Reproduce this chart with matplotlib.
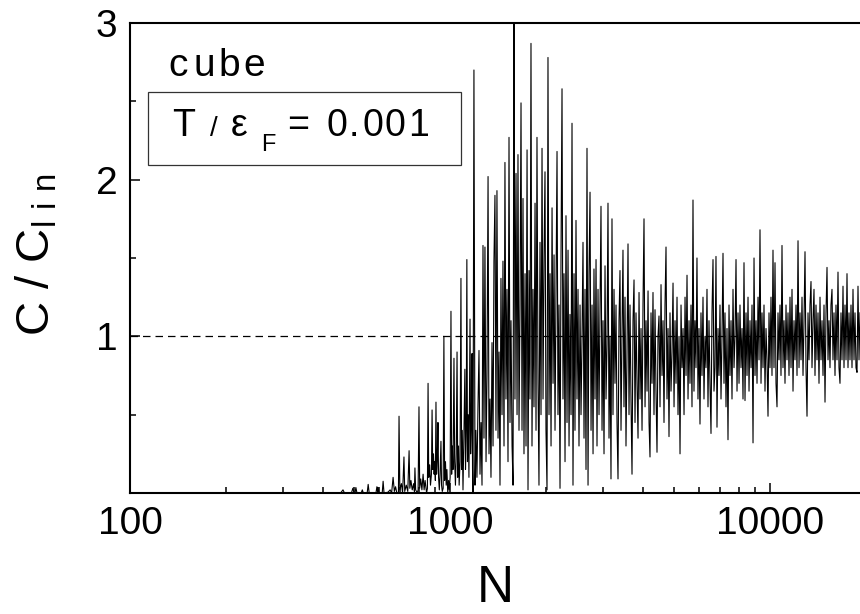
import numpy as np
import matplotlib
matplotlib.use("Agg")
import matplotlib.pyplot as plt
from matplotlib.patches import Rectangle
from matplotlib.ticker import FixedLocator, NullFormatter

plt.rcParams['font.family'] = ['Liberation Sans', 'DejaVu Sans']
plt.rcParams['mathtext.fontset'] = 'custom'
plt.rcParams['mathtext.rm'] = 'Liberation Sans'

# ---- data: onset region (sparse spikes) ----
N_onset = [100, 455, 463, 468, 492, 497, 502, 505, 508, 512,
           528, 532, 536, 551, 555, 559, 587, 591, 594, 596,
           600, 614, 618, 622, 640, 650, 657, 664, 670, 676,
           682, 690, 693, 697, 705, 711, 718, 722, 730, 738,
           745, 749, 755, 762, 770, 774, 777, 781, 790, 795,
           800, 804, 810, 817, 824, 830, 836, 845, 850, 854,
           858, 864, 869, 875, 879, 883, 888, 892, 896, 900,
           904, 908, 913, 917, 921, 926, 931, 937, 941, 946,
           952, 957, 962, 968, 973, 978, 984, 990, 995, 1001,
           1007, 1012, 1017, 1022, 1029, 1034, 1040, 1046, 1052, 1057,
           1063, 1068, 1075, 1082, 1087, 1092, 1098, 1105, 1113, 1118,
           1124, 1129, 1134, 1140, 1146, 1155, 1160, 1166, 1172, 1176,
           1180]
C_onset = [0.0, 0.0, 0.02, 0.0, 0.0, 0.03, 0.0, 0.0, 0.035, 0.0,
           0.0, 0.02, 0.0, 0.0, 0.055, 0.0, 0.0, 0.04, 0.01, 0.035,
           0.0, 0.0, 0.075, 0.0, 0.005, 0.02, 0.0, 0.10, 0.01, 0.04,
           0.0, 0.0, 0.49, 0.02, 0.06, 0.0, 0.23, 0.01, 0.05, 0.01,
           0.27, 0.03, 0.08, 0.02, 0.06, 0.01, 0.16, 0.02, 0.0, 0.02,
           0.55, 0.03, 0.09, 0.02, 0.12, 0.02, 0.08, 0.0, 0.03, 0.70,
           0.10, 0.18, 0.05, 0.12, 0.53, 0.15, 0.25, 0.12, 0.20, 0.08,
           0.58, 0.12, 0.22, 0.45, 0.10, 0.02, 0.12, 0.33, 0.05, 0.01,
           0.03, 1.0, 0.08, 0.20, 0.05, 0.15, 0.0, 0.08, 0.02, 0.10,
           1.16, 0.12, 0.30, 0.15, 0.86, 0.20, 0.05, 0.25, 0.90, 0.10,
           0.30, 0.05, 0.20, 1.37, 0.15, 0.40, 0.02, 0.35, 0.79, 0.15,
           0.40, 1.49, 0.20, 0.50, 0.10, 1.11, 0.25, 0.45, 0.89, 0.15,
           0.0]

# ---- data: strong-oscillation region ----
N_mid = [1188, 1197, 1205, 1214, 1223, 1232, 1241, 1250, 1259, 1268,
         1277, 1286, 1296, 1305, 1315, 1324, 1334, 1343, 1353, 1363,
         1372, 1382, 1392, 1402, 1413, 1423, 1433, 1443, 1454, 1464,
         1475, 1485, 1496, 1507, 1518, 1529, 1540, 1551, 1563, 1574,
         1585, 1596, 1608, 1620, 1631, 1643, 1655, 1667, 1679, 1691,
         1703, 1716, 1728, 1741, 1753, 1766, 1778, 1791, 1804, 1817,
         1830, 1844, 1857, 1870, 1884, 1897, 1911, 1925, 1939, 1953,
         1967, 1981, 1995, 2010, 2024, 2039, 2054, 2069, 2084, 2099,
         2114, 2129, 2144, 2160, 2175, 2191, 2207, 2223, 2239, 2255,
         2271, 2288, 2304, 2321, 2338, 2355, 2371, 2389, 2406, 2423,
         2441, 2458, 2476, 2494, 2512, 2530, 2549, 2567, 2586, 2604,
         2623, 2642, 2661, 2680, 2700, 2719, 2739, 2759, 2779, 2799,
         2818, 2839, 2860, 2880, 2901, 2922]
C_mid = [2.70, 0.05, 0.40, 0.10, 0.55, 0.91, 0.12, 0.45, 0.05, 1.58,
         0.35, 1.57, 0.20, 0.76, 2.02, 0.25, 0.60, 0.10, 0.96, 0.30,
         1.48, 1.90, 0.40, 1.93, 0.35, 0.90, 0.05, 1.37, 0.50, 1.48,
         0.30, 2.11, 0.60, 1.30, 0.20, 2.27, 0.45, 1.10, 0.30, 0.05,
         3.30, 0.60, 2.04, 0.50, 2.16, 0.40, 1.20, 2.49, 0.40, 1.88,
         0.25, 1.40, 0.30, 2.19, 0.02, 1.42, 0.60, 2.87, 0.30, 1.30,
         0.55, 1.85, 0.40, 2.27, 0.70, 0.05, 1.60, 0.50, 2.20, 0.60,
         1.50, 2.05, 0.40, 0.02, 2.78, 0.50, 1.40, 0.30, 1.82, 0.70,
         1.52, 0.40, 1.30, 2.18, 0.50, 1.20, 0.03, 1.52, 2.58, 0.60,
         1.40, 0.20, 1.77, 0.45, 1.55, 0.30, 1.14, 0.50, 2.36, 0.05,
         1.40, 0.40, 1.74, 0.60, 1.30, 0.30, 1.20, 0.50, 1.00, 1.60,
         0.35, 1.30, 0.15, 2.20, 0.05, 1.40, 1.92, 0.40, 1.20, 0.25,
         1.43, 0.60, 1.49, 0.30, 1.30, 0.50]

# ---- data: fluctuations around the bulk value ----
N_tail = [2943, 2964, 2986, 3007, 3029, 3051, 3073, 3095, 3117, 3140,
          3162, 3185, 3208, 3231, 3255, 3278, 3302, 3326, 3350, 3374,
          3398, 3423, 3447, 3472, 3497, 3523, 3548, 3574, 3600, 3626,
          3652, 3678, 3705, 3732, 3759, 3786, 3813, 3841, 3869, 3897,
          3925, 3953, 3982, 4010, 4039, 4069, 4098, 4128, 4158, 4188,
          4217, 4248, 4278, 4309, 4340, 4372, 4403, 4435, 4467, 4499,
          4532, 4565, 4598, 4631, 4664, 4698, 4732, 4766, 4801, 4835,
          4870, 4905, 4941, 4977, 5013, 5049, 5085, 5122, 5159, 5196,
          5234, 5272, 5310, 5348, 5387, 5426, 5465, 5504, 5544, 5584,
          5623, 5664, 5705, 5746, 5787, 5829, 5871, 5913, 5956, 5999,
          6043, 6086, 6130, 6175, 6219, 6264, 6309, 6355, 6401, 6447,
          6494, 6541, 6588, 6636, 6683, 6732, 6780, 6829, 6879, 6928,
          6978, 7029, 7080, 7131, 7182, 7234, 7287, 7339, 7392, 7446,
          7499, 7554, 7608, 7663, 7719, 7774, 7831, 7887, 7944, 8002,
          8058, 8117, 8176, 8235, 8294, 8354, 8415, 8476, 8537, 8599,
          8660, 8723, 8786, 8850, 8914, 8978, 9043, 9108, 9174, 9241,
          9306, 9374, 9441, 9509, 9578, 9647, 9717, 9787, 9858, 9929,
          10000, 10072, 10145, 10218, 10292, 10367, 10442, 10517, 10593, 10670,
          10746, 10824, 10902, 10981, 11061, 11140, 11221, 11302, 11384, 11466,
          11548, 11632, 11716, 11801, 11886, 11972, 12059, 12146, 12234, 12322,
          12410, 12500, 12590, 12681, 12773, 12865, 12958, 13052, 13146, 13241,
          13335, 13432, 13529, 13627, 13725, 13824, 13924, 14025, 14126, 14228,
          14331, 14435, 14539, 14644, 14750, 14856, 14964, 15072, 15181, 15291,
          15399, 15510, 15622, 15735, 15849, 15964, 16079, 16195, 16312, 16430,
          16548, 16668, 16788, 16910, 17032, 17155, 17279, 17404, 17529, 17656,
          17783, 17911, 18041, 18171, 18303, 18435, 18568, 18702, 18837, 18974, 19110]
C_tail = [1.20, 1.83, 0.40, 1.10, 0.25, 1.45, 0.60, 0.95, 1.85, 0.35,
          1.00, 0.09, 1.75, 0.50, 1.30, 0.70, 1.20, 0.45, 0.09, 1.10,
          1.42, 0.40, 1.00, 1.55, 0.55, 1.25, 0.30, 0.90, 1.59, 0.50,
          1.20, 0.60, 0.12, 1.10, 1.36, 0.45, 1.15, 0.70, 0.35, 1.28,
          0.60, 1.05, 0.40, 1.20, 1.75, 0.55, 1.10, 0.65, 1.29, 0.45,
          0.23, 1.15, 0.70, 1.28, 0.50, 1.17, 0.65, 0.26, 1.00, 1.13,
          0.55, 1.33, 0.75, 1.10, 0.45, 1.20, 1.57, 0.60, 1.05, 0.36,
          1.15, 0.65, 0.90, 1.34, 0.55, 1.10, 0.70, 1.25, 0.50, 1.00,
          0.25, 1.20, 0.80, 1.05, 0.50, 1.25, 0.75, 1.39, 0.60, 1.10,
          0.70, 1.20, 0.55, 1.87, 0.65, 1.10, 0.80, 1.50, 0.60, 1.05,
          0.44, 1.15, 0.75, 1.25, 0.60, 1.00, 0.80, 1.30, 0.55, 1.10,
          0.70, 0.38, 1.15, 1.49, 0.65, 0.80, 1.51, 0.42, 1.05, 0.75,
          1.20, 0.60, 1.00, 1.53, 0.70, 1.15, 0.55, 1.05, 0.34, 1.20,
          0.75, 1.10, 0.60, 1.30, 0.80, 1.00, 1.49, 0.65, 1.15, 0.70,
          1.20, 0.80, 1.05, 0.60, 1.47, 0.59, 1.15, 0.75, 1.25, 0.65,
          1.10, 0.80, 1.20, 0.32, 1.50, 0.75, 1.10, 0.70, 1.25, 0.85,
          1.68, 0.70, 1.15, 0.80, 1.20, 0.65, 1.05, 0.85, 0.49, 1.15,
          0.80, 1.25, 0.75, 1.55, 0.80, 1.47, 0.70, 0.55, 1.15, 0.85,
          1.20, 0.75, 1.58, 0.80, 1.10, 0.70, 1.20, 0.85, 1.15, 0.75,
          1.25, 0.80, 1.30, 0.65, 1.10, 0.85, 1.20, 0.75, 1.61, 0.80,
          1.15, 0.85, 1.25, 0.75, 1.10, 1.54, 0.80, 0.49, 1.15, 0.85,
          1.20, 1.35, 0.80, 1.10, 1.30, 0.75, 1.20, 0.85, 1.15, 0.70,
          1.25, 0.85, 1.10, 0.75, 1.20, 0.58, 1.15, 1.44, 0.85, 1.10,
          0.80, 1.20, 1.30, 0.85, 1.15, 0.75, 1.20, 0.85, 1.41, 0.80,
          0.70, 1.15, 0.85, 1.32, 0.80, 1.20, 0.85, 1.40, 0.80, 1.15,
          0.85, 1.20, 0.80, 1.30, 0.85, 1.15, 0.80, 0.77, 1.32, 0.85, 1.15]

x_ticks = [100, 1000, 10000]
x_tick_labels = ["100", "1000", "10000"]
y_ticks = [1, 2, 3]
y_tick_labels = ["1", "2", "3"]
reference_level = 1.0

N = np.array(N_onset + N_mid + N_tail, dtype=float)
C = np.array(C_onset + C_mid + C_tail, dtype=float)

W, H = 860, 614
fig = plt.figure(figsize=(W / 100, H / 100), dpi=100)
ax = fig.add_axes([130 / W, 1 - 493 / H, 730 / W, 470 / H])

ax.plot(N, C, color='black', lw=0.8)
ax.axhline(reference_level, color='black', lw=0.9, ls=(0, (6, 4)))

ax.set_xscale('log')
ax.set_xlim(100, 19110)
ax.set_ylim(0, 3)

ax.xaxis.set_major_locator(FixedLocator(x_ticks))
ax.set_xticklabels(x_tick_labels)
minor_x = [m * d for d in (100, 1000, 10000) for m in range(2, 10)]
ax.xaxis.set_minor_locator(FixedLocator(minor_x))
ax.xaxis.set_minor_formatter(NullFormatter())
ax.set_yticks(y_ticks)
ax.set_yticklabels(y_tick_labels)
ax.yaxis.set_minor_locator(FixedLocator([0.5, 1.5, 2.5]))

ax.tick_params(which='both', direction='in', top=False, right=False, width=1.1)
ax.tick_params(which='major', length=7, labelsize=28, pad=9)
ax.tick_params(which='minor', length=4)
for s in ('left', 'bottom', 'top'):
    ax.spines[s].set_linewidth(1.5)
ax.spines['right'].set_visible(False)

def fx(px):
    return px / W

def fy(py):
    return 1 - py / H

fig.text(fx(495), fy(588), "N", fontsize=37, ha='center', va='center')
fig.text(fx(37), fy(255), r"C / C$_{\mathrm{l\ i\ n}}$", fontsize=34,
         rotation=90, ha='center', va='center')

# "cube" label, letter-spaced as in the reference
for ch, px in zip("cube", (168, 193, 218, 243)):
    fig.text(fx(px), fy(76), ch, fontsize=28, ha='left', va='baseline')

fig.patches.append(Rectangle((fx(148), fy(165)), fx(461) - fx(148), fy(92) - fy(165),
                             transform=fig.transFigure, fill=False,
                             edgecolor='#333333', lw=0.9))
fig.text(fx(172), fy(136), "T", fontsize=27, ha='left', va='baseline')
fig.text(fx(210), fy(136), "/", fontsize=20, ha='left', va='baseline')
fig.text(fx(231), fy(136), "ε", fontsize=27, ha='left', va='baseline')
fig.text(fx(261), fy(151), "F", fontsize=17, ha='left', va='baseline')
fig.text(fx(287), fy(136), "=", fontsize=27, ha='left', va='baseline')
for ch, px in zip("0.001", (326, 349, 362, 385, 408)):
    fig.text(fx(px), fy(136), ch, fontsize=27, ha='left', va='baseline')

fig.savefig("out.png", dpi=100)
